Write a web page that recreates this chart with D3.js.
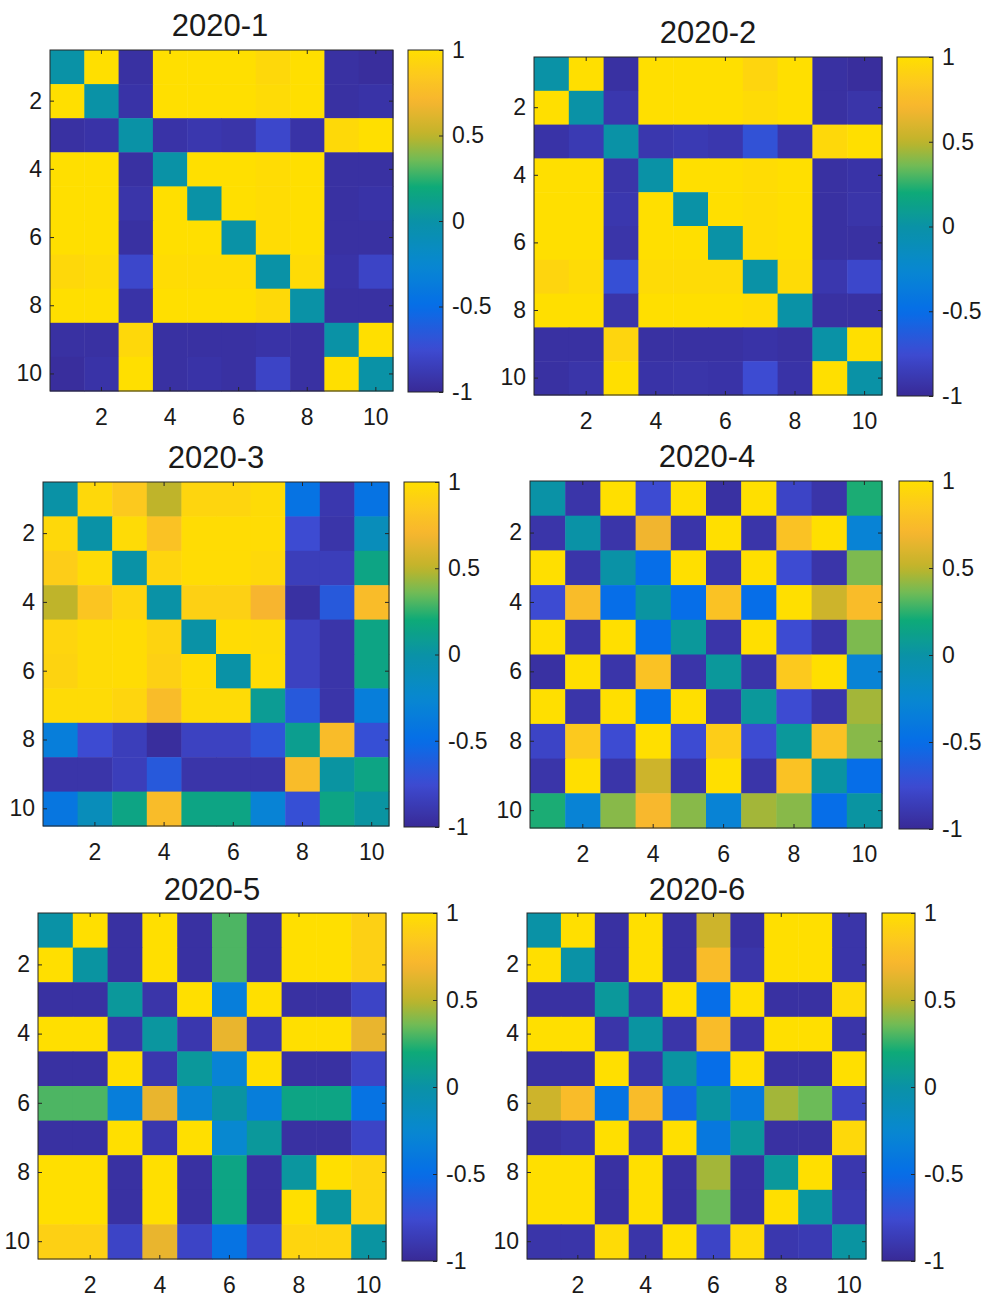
<!DOCTYPE html>
<html>
<head>
<meta charset="utf-8">
<script src="https://cdn.jsdelivr.net/npm/d3@7/dist/d3.min.js"></script>
<style>
  body { margin: 0; background: #fff; }
  text { font-family: "Liberation Sans", Arial, Helvetica, sans-serif; fill: #1a1a1a; }
</style>
</head>
<body>
<div id="chart"></div>
<script>
// categories / ticks
var cats = [1, 2, 3, 4, 5, 6, 7, 8, 9, 10];
var axisTicks = [2, 4, 6, 8, 10];
var cbarTicks = [-1, -0.5, 0, 0.5, 1];
var titles = ["2020-1", "2020-2", "2020-3", "2020-4", "2020-5", "2020-6"];

// matrices (row = y, col = x)
var m2020_1 = [
  [0, 1, -0.95, 1, 1, 1, 0.95, 1, -0.95, -0.97],
  [1, 0, -0.93, 1, 1, 1, 0.97, 1, -0.95, -0.93],
  [-0.95, -0.93, 0, -0.93, -0.9, -0.92, -0.78, -0.93, 0.96, 1],
  [1, 1, -0.95, 0, 1, 1, 0.98, 1, -0.95, -0.95],
  [1, 1, -0.92, 1, 0, 1, 0.98, 1, -0.95, -0.93],
  [1, 1, -0.95, 1, 1, 0, 0.98, 1, -0.95, -0.95],
  [0.95, 0.97, -0.78, 0.98, 0.98, 0.98, 0, 0.97, -0.93, -0.8],
  [1, 1, -0.93, 1, 1, 1, 0.96, 0, -0.95, -0.95],
  [-0.95, -0.95, 0.95, -0.95, -0.95, -0.95, -0.93, -0.95, 0, 1],
  [-0.97, -0.93, 1, -0.95, -0.93, -0.95, -0.8, -0.95, 1, 0]
];
var m2020_2 = [
  [0, 1, -0.95, 1, 1, 1, 0.93, 1, -0.95, -0.97],
  [1, 0, -0.9, 1, 1, 1, 0.97, 1, -0.95, -0.92],
  [-0.93, -0.88, 0, -0.9, -0.88, -0.9, -0.7, -0.92, 0.95, 1],
  [1, 1, -0.92, 0, 1, 1, 0.98, 1, -0.95, -0.93],
  [1, 1, -0.9, 1, 0, 1, 0.98, 1, -0.95, -0.92],
  [1, 1, -0.92, 1, 1, 0, 0.98, 1, -0.95, -0.95],
  [0.93, 0.97, -0.72, 0.97, 0.97, 0.97, 0, 0.97, -0.9, -0.78],
  [1, 1, -0.92, 1, 1, 1, 0.98, 0, -0.95, -0.95],
  [-0.95, -0.95, 0.93, -0.95, -0.95, -0.95, -0.93, -0.95, 0, 1],
  [-0.95, -0.92, 1, -0.93, -0.92, -0.93, -0.75, -0.93, 1, 0]
];
var m2020_3 = [
  [0, 0.95, 0.85, 0.5, 0.93, 0.93, 0.97, -0.45, -0.9, -0.45],
  [0.95, 0, 0.97, 0.8, 0.98, 0.98, 0.98, -0.75, -0.92, -0.12],
  [0.88, 0.97, 0, 0.93, 0.98, 0.98, 0.95, -0.85, -0.85, 0.15],
  [0.5, 0.82, 0.93, 0, 0.9, 0.9, 0.7, -0.95, -0.65, 0.75],
  [0.93, 0.97, 0.98, 0.92, 0, 0.98, 0.97, -0.82, -0.92, 0.15],
  [0.92, 0.97, 0.98, 0.9, 0.98, 0, 0.98, -0.82, -0.92, 0.15],
  [0.97, 0.97, 0.93, 0.75, 0.97, 0.97, 0.08, -0.65, -0.92, -0.35],
  [-0.35, -0.75, -0.85, -0.97, -0.82, -0.82, -0.68, 0.1, 0.75, -0.72],
  [-0.92, -0.92, -0.85, -0.65, -0.92, -0.92, -0.92, 0.75, 0.02, 0.15],
  [-0.42, -0.12, 0.15, 0.75, 0.15, 0.15, -0.3, -0.72, 0.15, 0.02]
];
var m2020_4 = [
  [0, -0.92, 1, -0.75, 1, -0.95, 1, -0.8, -0.92, 0.22],
  [-0.92, 0, -0.92, 0.68, -0.92, 1, -0.92, 0.8, 1, -0.3],
  [1, -0.92, 0, -0.5, 1, -0.92, 1, -0.75, -0.92, 0.38],
  [-0.75, 0.75, -0.5, 0.02, -0.5, 0.8, -0.5, 1, 0.55, 0.75],
  [1, -0.92, 1, -0.5, 0.05, -0.92, 1, -0.75, -0.92, 0.38],
  [-0.95, 1, -0.92, 0.8, -0.92, 0.05, -0.92, 0.85, 1, -0.3],
  [1, -0.92, 1, -0.5, 1, -0.92, 0.05, -0.75, -0.92, 0.45],
  [-0.8, 0.85, -0.75, 1, -0.75, 0.88, -0.75, 0.05, 0.8, 0.4],
  [-0.92, 1, -0.92, 0.55, -0.92, 1, -0.92, 0.8, 0.02, -0.5],
  [0.22, -0.3, 0.4, 0.72, 0.4, -0.3, 0.45, 0.4, -0.5, 0.02]
];
var m2020_5 = [
  [0, 1, -0.95, 1, -0.95, 0.3, -0.95, 1, 1, 0.9],
  [1, 0.02, -0.95, 1, -0.95, 0.3, -0.95, 1, 1, 0.9],
  [-0.95, -0.95, 0.05, -0.92, 1, -0.35, 1, -0.95, -0.95, -0.8],
  [1, 1, -0.92, 0.03, -0.9, 0.65, -0.9, 1, 1, 0.65],
  [-0.95, -0.95, 1, -0.9, 0.05, -0.3, 1, -0.95, -0.95, -0.8],
  [0.3, 0.3, -0.35, 0.65, -0.3, 0.02, -0.35, 0.15, 0.15, -0.45],
  [-0.95, -0.95, 1, -0.9, 1, -0.25, 0.05, -0.95, -0.95, -0.8],
  [1, 1, -0.95, 1, -0.95, 0.15, -0.95, 0.03, 1, 0.93],
  [1, 1, -0.95, 1, -0.95, 0.15, -0.95, 1, 0.02, 0.93],
  [0.9, 0.9, -0.8, 0.65, -0.8, -0.45, -0.8, 0.93, 0.93, 0.02]
];
var m2020_6 = [
  [0, 1, -0.95, 1, -0.95, 0.55, -0.95, 1, 1, -0.92],
  [1, 0, -0.95, 1, -0.95, 0.75, -0.92, 1, 1, -0.92],
  [-0.95, -0.95, 0.05, -0.92, 1, -0.5, 1, -0.95, -0.95, 0.97],
  [1, 1, -0.92, 0.02, -0.92, 0.75, -0.92, 1, 1, -0.92],
  [-0.95, -0.95, 1, -0.92, 0.02, -0.5, 1, -0.95, -0.95, 1],
  [0.55, 0.75, -0.45, 0.75, -0.55, 0.02, -0.4, 0.45, 0.35, -0.8],
  [-0.95, -0.92, 1, -0.92, 1, -0.4, 0.05, -0.95, -0.95, 0.95],
  [1, 1, -0.95, 1, -0.95, 0.45, -0.95, 0.05, 1, -0.9],
  [1, 1, -0.95, 1, -0.95, 0.35, -0.95, 1, 0.02, -0.88],
  [-0.92, -0.92, 0.97, -0.92, 1, -0.8, 0.97, -0.9, -0.88, 0.02]
];
var matrices = [m2020_1, m2020_2, m2020_3, m2020_4, m2020_5, m2020_6];

// parula-like colour ramp
var rampDomain = [-1, -0.75, -0.5, -0.25, 0, 0.2, 0.35, 0.5, 0.7, 0.85, 1];
var rampColors = ["#382a96", "#3d4bd2", "#066ee8", "#0888d0", "#0a92a6", "#0eaa78",
                  "#6cbb58", "#bfb42a", "#f7b52f", "#fcc91e", "#ffdf00"];

// panel placement
var panels = [
  {hx: 50,  hy: 50,  hw: 343, hh: 341, cx: 408, cy: 50,  cw: 35, ch: 342, tx: 220, ty: 36},
  {hx: 534, hy: 57,  hw: 348, hh: 338, cx: 897, cy: 57,  cw: 36, ch: 339, tx: 708, ty: 43},
  {hx: 43,  hy: 482, hw: 346, hh: 344, cx: 404, cy: 482, cw: 35, ch: 345, tx: 216, ty: 468},
  {hx: 530, hy: 481, hw: 352, hh: 347, cx: 899, cy: 481, cw: 34, ch: 348, tx: 707, ty: 467},
  {hx: 38,  hy: 913, hw: 348, hh: 346, cx: 402, cy: 913, cw: 35, ch: 348, tx: 212, ty: 900},
  {hx: 527, hy: 913, hw: 339, hh: 346, cx: 882, cy: 913, cw: 33, ch: 348, tx: 697, ty: 900}
];

var width = 987, height = 1299;
var svg = d3.select("#chart").append("svg")
    .attr("width", width)
    .attr("height", height);

var color = d3.scaleLinear()
    .domain(rampDomain)
    .range(rampColors)
    .interpolate(d3.interpolateRgb)
    .clamp(true);

// gradient for the colour bars
var defs = svg.append("defs");
var grad = defs.append("linearGradient")
    .attr("id", "cbar")
    .attr("x1", 0).attr("y1", 1).attr("x2", 0).attr("y2", 0);
grad.selectAll("stop")
    .data(d3.range(0, 1.0001, 0.02))
    .enter().append("stop")
    .attr("offset", function(t) { return t; })
    .attr("stop-color", function(t) { return color(-1 + 2 * t); });

var tickFont = 23, titleFont = 31, tickLen = 4, lineCol = "#262626";

panels.forEach(function(p, k) {
  var m = matrices[k];
  var g = svg.append("g");

  var x = d3.scaleBand().domain(cats).range([p.hx, p.hx + p.hw]);
  var y = d3.scaleBand().domain(cats).range([p.hy, p.hy + p.hh]);

  var cells = [];
  m.forEach(function(row, i) {
    row.forEach(function(v, j) { cells.push({r: cats[i], c: cats[j], v: v}); });
  });

  g.selectAll("rect.cell")
    .data(cells)
    .enter().append("rect")
    .attr("class", "cell")
    .attr("x", function(d) { return x(d.c); })
    .attr("y", function(d) { return y(d.r); })
    .attr("width", x.bandwidth() + 0.5)
    .attr("height", y.bandwidth() + 0.5)
    .attr("fill", function(d) { return color(d.v); });

  g.append("rect")
    .attr("x", p.hx).attr("y", p.hy)
    .attr("width", p.hw).attr("height", p.hh)
    .attr("fill", "none").attr("stroke", lineCol).attr("stroke-width", 1);

  // axes, ticks pointing inwards like matlab
  var left = g.append("g")
    .attr("transform", "translate(" + p.hx + ",0)")
    .call(d3.axisLeft(y).tickValues(axisTicks).tickSize(-tickLen).tickPadding(8));
  var bottom = g.append("g")
    .attr("transform", "translate(0," + (p.hy + p.hh) + ")")
    .call(d3.axisBottom(x).tickValues(axisTicks).tickSize(-tickLen).tickPadding(18));
  var top = g.append("g")
    .attr("transform", "translate(0," + p.hy + ")")
    .call(d3.axisTop(x).tickValues(axisTicks).tickSize(-tickLen).tickFormat(""));
  var right = g.append("g")
    .attr("transform", "translate(" + (p.hx + p.hw) + ",0)")
    .call(d3.axisRight(y).tickValues(axisTicks).tickSize(-tickLen).tickFormat(""));

  [left, bottom, top, right].forEach(function(a) {
    a.select(".domain").remove();
    a.selectAll("line").attr("stroke", lineCol);
    a.selectAll("text").attr("font-size", tickFont).attr("font-family", null);
  });

  // title
  g.append("text")
    .attr("x", p.tx).attr("y", p.ty)
    .attr("text-anchor", "middle")
    .attr("font-size", titleFont)
    .text(titles[k]);

  // colour bar
  var cs = d3.scaleLinear().domain([-1, 1]).range([p.cy + p.ch, p.cy]);
  g.append("rect")
    .attr("x", p.cx).attr("y", p.cy)
    .attr("width", p.cw).attr("height", p.ch)
    .attr("fill", "url(#cbar)")
    .attr("stroke", lineCol).attr("stroke-width", 1);
  var cax = g.append("g")
    .attr("transform", "translate(" + (p.cx + p.cw) + ",0)")
    .call(d3.axisRight(cs).tickValues(cbarTicks).tickSize(-tickLen).tickPadding(9)
      .tickFormat(function(d) { return String(d); }));
  cax.select(".domain").remove();
  cax.selectAll("line").attr("stroke", lineCol);
  cax.selectAll("text").attr("font-size", tickFont).attr("font-family", null);
});
</script>
</body>
</html>
